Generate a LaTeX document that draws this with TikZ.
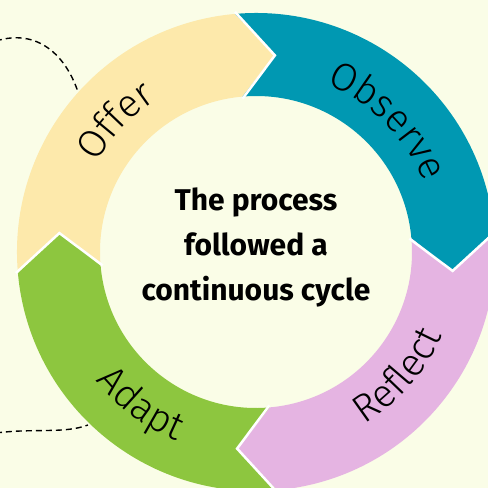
\documentclass[tikz,border=0pt]{standalone}
\usepackage{fontspec}
\setmainfont{Fira Sans}
\newfontfamily\lightfont{Fira Sans Light}
\usetikzlibrary{decorations.text}

\definecolor{bgcream}{HTML}{FAFDE7}
\definecolor{offercol}{HTML}{FDE9AB}
\definecolor{observecol}{HTML}{0098B2}
\definecolor{reflectcol}{HTML}{E5B4E2}
\definecolor{adaptcol}{HTML}{8DC63F}

\begin{document}
\begin{tikzpicture}[
  x=1pt, y=1pt,
  ringlabel/.style={decorate, decoration={text along path, text align=center,
    text={|\lightfont\fontsize{39}{39}\selectfont|#1}}},
  link/.style={line width=1.4pt, dash pattern=on 6pt off 4pt},
  every node/.style={inner sep=0pt}
]
  % page and clipping
  \useasboundingbox (-256,-236) rectangle (232,252);
  \fill[bgcream] (-256,-236) rectangle (232,252);
  \clip (-256,-236) rectangle (232,252);

  % ring pieces: start angle / colour, tip points clockwise
  \def\Ro{239} \def\Ri{156} \def\Rm{197.5} \def\tipang{10.5}
  \foreach \a/\col in {185/offercol, 95/observecol, 5/reflectcol, -85/adaptcol}{
    \fill[\col] (\a:\Ro) arc[start angle=\a, end angle=\a-90, radius=\Ro]
      -- ({\a-90-\tipang}:\Rm) -- ({\a-90}:\Ri)
      arc[start angle=\a-90, end angle=\a, radius=\Ri]
      -- ({\a-\tipang}:\Rm) -- cycle;
  }
  % white seams between the pieces
  \foreach \a in {185, 95, 5, -85}
    \draw[white, line width=2.5pt] (\a:\Ro+2) -- ({\a-\tipang}:\Rm) -- (\a:\Ri-2);

  % labels on the ring
  \path[ringlabel=Offer] (197:182) arc[start angle=197, end angle=77, radius=182];
  \path[ringlabel=Observe] (105:182) arc[start angle=105, end angle=-15, radius=182];
  \path[ringlabel=Reflect] (-101:204) arc[start angle=-101, end angle=19, radius=204];
  \path[ringlabel=Adapt] (-187:205) arc[start angle=-187, end angle=-67, radius=205];

  % centre text
  \node[align=center, font=\bfseries\fontsize{30}{45}\selectfont] (cycletext) at (0,5)
    {The process\\followed a\\continuous cycle};

  % dashed links coming in from the left
  \coordinate (offerfrom) at (-260,211);
  \coordinate (offerlink) at (-178,160);
  \coordinate (adaptfrom) at (-260,-181);
  \coordinate (adaptlink) at (-168,-173);
  \draw[link] (offerfrom) .. controls (-218,224) and (-190,196) .. (offerlink);
  \draw[link] (adaptfrom) .. controls (-222,-176) and (-192,-182) .. (adaptlink);
\end{tikzpicture}
\end{document}
